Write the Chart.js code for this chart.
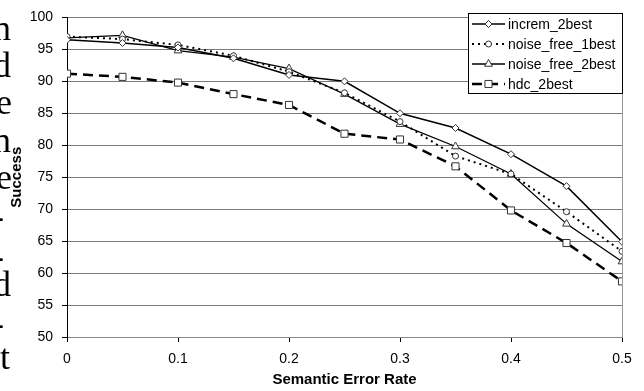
<!DOCTYPE html>
<html>
<head>
<meta charset="utf-8">
<script src="https://cdn.jsdelivr.net/npm/chart.js@4.4.0/dist/chart.umd.min.js"></script>
<style>
  html, body { margin: 0; padding: 0; background: #fff; overflow: hidden; }
  #wrap { position: relative; width: 644px; height: 391px; overflow: hidden; }
  #chart { position: absolute; left: 0; top: 0; }
  .frag {
    position: absolute;
    font-family: "Liberation Serif", "DejaVu Serif", serif;
    font-size: 36px;
    line-height: 36px;
    color: #000;
    white-space: nowrap;
    text-align: right;
    width: 80px;
  }
</style>
</head>
<body>
<div id="wrap">
  <canvas id="chart" width="644" height="391"></canvas>
</div>
<script>
// ---- data ------------------------------------------------------------
const errorRates = [0, 0.05, 0.1, 0.15, 0.2, 0.25, 0.3, 0.35, 0.4, 0.45, 0.5];

const increm2best    = [96.5, 96.0, 95.3, 93.6, 91.0, 90.0, 85.0, 82.7, 78.6, 73.6, 64.9];
const noiseFree1best = [97.0, 96.6, 95.7, 94.0, 91.5, 88.2, 83.7, 78.3, 75.5, 69.6, 63.4];
const noiseFree2best = [96.8, 97.2, 94.8, 93.8, 92.0, 88.0, 83.3, 79.8, 75.5, 67.7, 61.8];
const hdc2best       = [91.2, 90.7, 89.8, 88.0, 86.3, 81.8, 80.9, 76.7, 69.8, 64.7, 58.7];

const seriesNames = ["increm_2best", "noise_free_1best", "noise_free_2best", "hdc_2best"];

// clipped words of the neighbouring text column (only the right edge shows)
const textFragments = [
  ["n", 38, 11], ["d", 75, 11], ["e", 112, 12], ["n", 150, 11], ["e", 187, 12],
  ["-", 226, 4], ["-", 266, 4], ["d", 294, 11], ["-", 333, 4], ["t", 367, 10]
];

// ---- page text fragments ---------------------------------------------
const wrap = document.getElementById("wrap");
textFragments.forEach(([txt, baseline, right]) => {
  const d = document.createElement("div");
  d.className = "frag";
  d.textContent = txt;
  d.style.left = (right - 80) + "px";
  d.style.top = (baseline - 28) + "px";
  wrap.appendChild(d);
});

// ---- chart ------------------------------------------------------------
const pts = (ys) => ys.map((y, i) => ({ x: errorRates[i], y }));
const tickFont = { family: "'Liberation Sans', Arial, sans-serif", size: 14 };
const titleFont = { family: "'Liberation Sans', Arial, sans-serif", size: 15, weight: "bold" };

const rightBorder = {
  id: "rightBorder",
  afterDraw(chart) {
    const { ctx, chartArea: a } = chart;
    ctx.save();
    ctx.strokeStyle = "#999";
    ctx.lineWidth = 1;
    ctx.beginPath();
    ctx.moveTo(Math.round(a.right) + 0.5, a.top);
    ctx.lineTo(Math.round(a.right) + 0.5, a.bottom);
    ctx.stroke();
    ctx.restore();
  },
};

const legendBox = {
  id: "legendBox",
  afterDraw(chart) {
    const ctx = chart.ctx;
    const bx = 468.5, by = 13.5, bw = 154, bh = 80;
    ctx.save();
    ctx.fillStyle = "#fff";
    ctx.fillRect(bx, by, bw, bh);
    ctx.strokeStyle = "#000";
    ctx.lineWidth = 1;
    ctx.strokeRect(bx, by, bw, bh);

    chart.data.datasets.forEach((ds, i) => {
      const cy = 24 + i * 20;
      ctx.strokeStyle = ds.borderColor;
      ctx.lineWidth = ds.borderWidth;
      ctx.setLineDash(ds.borderDash || []);
      ctx.beginPath();
      ctx.moveTo(472, cy);
      ctx.lineTo(505, cy);
      ctx.stroke();
      ctx.setLineDash([]);

      ctx.fillStyle = ds.pointBackgroundColor;
      ctx.strokeStyle = ds.pointBorderColor;
      ctx.lineWidth = ds.pointBorderWidth;
      Chart.helpers.drawPoint(ctx, {
        pointStyle: ds.pointStyle, radius: ds.pointRadius, borderWidth: ds.pointBorderWidth, rotation: 0,
      }, 488.5, cy);

      ctx.fillStyle = "#000";
      ctx.font = "14px 'Liberation Sans', Arial, sans-serif";
      ctx.textBaseline = "middle";
      ctx.textAlign = "left";
      ctx.fillText(ds.label, 508, cy + 1);
    });
    ctx.restore();
  },
};

function series(label, data, style, dash, width, radius) {
  return {
    label,
    data: pts(data),
    borderColor: "#000",
    borderWidth: width,
    borderDash: dash,
    pointStyle: style,
    pointRadius: radius,
    pointHoverRadius: radius,
    pointBackgroundColor: "#fff",
    pointBorderColor: "#333",
    pointBorderWidth: 1,
    tension: 0,
    fill: false,
  };
}

new Chart(document.getElementById("chart"), {
  type: "line",
  data: {
    datasets: [
      series(seriesNames[0], increm2best, "rectRot", [], 1.5, 3.5),
      series(seriesNames[1], noiseFree1best, "circle", [2, 4], 2, 3),
      series(seriesNames[2], noiseFree2best, "triangle", [], 1.3, 4.5),
      series(seriesNames[3], hdc2best, "rect", [10, 6], 2.5, 5),
    ],
  },
  options: {
    responsive: false,
    animation: false,
    layout: { padding: { top: 14, right: 22, left: 0, bottom: 0 } },
    plugins: { legend: { display: false }, tooltip: { enabled: false } },
    scales: {
      x: {
        type: "linear",
        min: 0,
        max: 0.5,
        ticks: {
          stepSize: 0.1,
          color: "#000",
          font: tickFont,
          padding: 9,
          maxRotation: 0,
          callback: (v) => String(+v.toFixed(2)),
        },
        grid: { drawOnChartArea: false, tickLength: 5, tickColor: "#000" },
        border: { color: "#888" },
        title: { display: true, text: "Semantic Error Rate", color: "#000", font: titleFont, padding: { top: 0, bottom: 2 } },
        afterFit: (s) => { s.height = 54; },
      },
      y: {
        min: 50,
        max: 100,
        ticks: { stepSize: 5, color: "#000", font: tickFont, padding: 9 },
        grid: { color: "#7a7a7a", tickLength: 5, tickColor: "#000" },
        border: { color: "#000" },
        title: { display: true, text: "Success", color: "#000", font: titleFont, padding: { top: 8, bottom: 0 } },
        afterFit: (s) => { s.width = 67; },
      },
    },
  },
  plugins: [rightBorder, legendBox],
});
</script>
</body>
</html>
